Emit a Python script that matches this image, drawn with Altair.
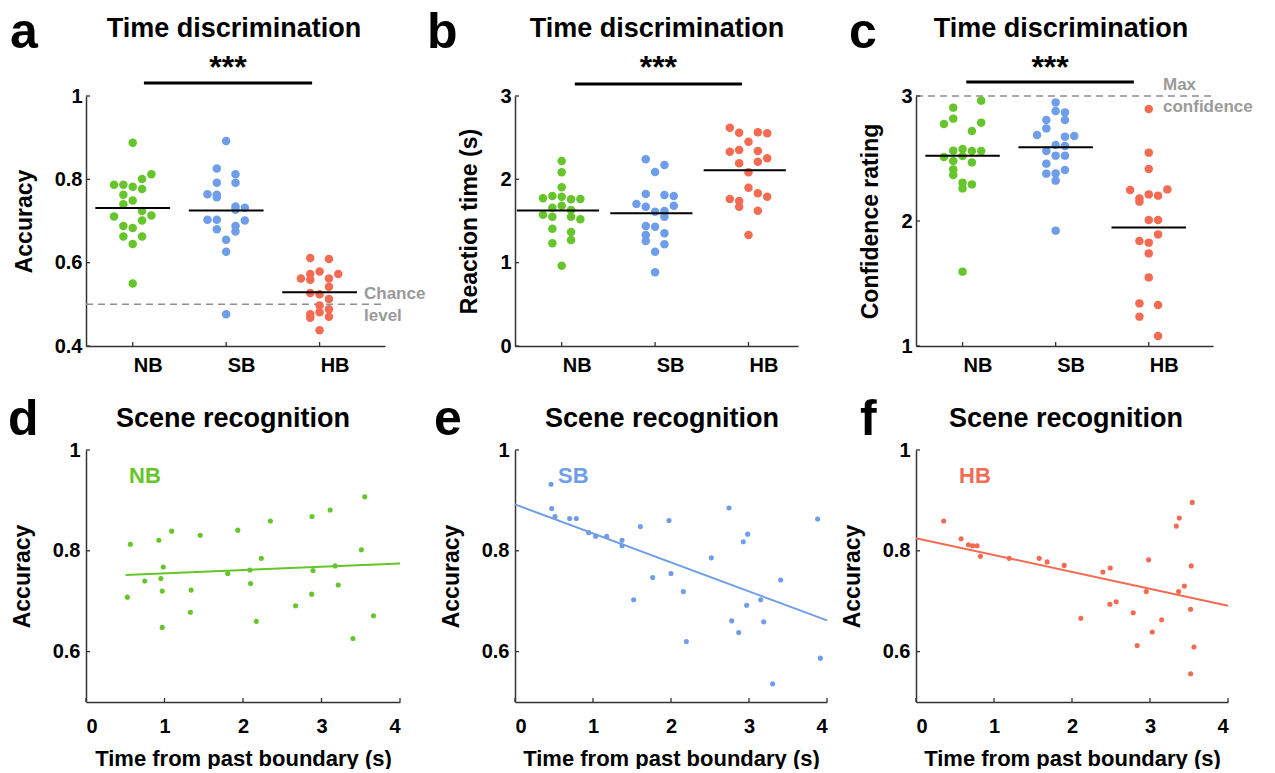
import altair as alt
import pandas as pd

FONT = "Liberation Sans"
GROUPS = ["NB", "SB", "HB"]
COLORS = ["#66c52a", "#6e9ee9", "#f36b52"]
AXC = "#333333"

# ---- panel a: accuracy (time discrimination) ----
a_NB_y = [0.888, 0.812, 0.801, 0.787, 0.787, 0.782, 0.777, 0.763, 0.749, 0.740,
          0.724, 0.711, 0.713, 0.701, 0.688, 0.683, 0.663, 0.663, 0.645, 0.550]
a_NB_dx = [0, 0.2, 0.1, -0.2, -0.1, 0, 0.1, -0.1, 0, -0.1, 0.1, -0.2, 0.2, 0.1, -0.1, 0, -0.1, 0.1, 0, 0]
a_SB_y = [0.892, 0.826, 0.812, 0.792, 0.792, 0.764, 0.763, 0.757, 0.735, 0.732,
          0.727, 0.703, 0.703, 0.701, 0.688, 0.680, 0.675, 0.655, 0.626, 0.476]
a_SB_dx = [0, -0.1, 0.1, -0.1, 0.1, -0.2, -0.1, -0.1, 0.1, 0.2, 0.1, -0.2, -0.1, 0.2, 0.1, -0.1, 0.1, 0, 0, 0]
a_HB_y = [0.611, 0.609, 0.579, 0.573, 0.573, 0.562, 0.559, 0.562, 0.542, 0.527,
          0.524, 0.513, 0.497, 0.476, 0.488, 0.481, 0.468, 0.470, 0.438]
a_HB_dx = [-0.1, 0.1, 0, -0.1, 0.2, -0.2, -0.1, 0.1, 0.1, -0.1, 0, 0.1, 0, -0.1, 0.1, 0, -0.1, 0.1, 0]

# ---- panel b: reaction time ----
b_NB_y = [2.22, 2.084, 1.904, 1.772, 1.80, 1.792, 1.76, 1.764, 1.66, 1.684,
          1.632, 1.576, 1.552, 1.552, 1.52, 1.408, 1.368, 1.232, 1.272, 0.964]
b_NB_dx = [0, 0, 0, -0.2, -0.1, 0, 0.1, 0.2, -0.1, 0, 0.1, -0.2, -0.1, 0.1, 0.2, -0.1, 0.1, -0.1, 0.1, 0]
b_SB_y = [2.24, 2.172, 2.088, 1.824, 1.812, 1.80, 1.704, 1.672, 1.684, 1.612,
          1.62, 1.552, 1.44, 1.432, 1.332, 1.352, 1.26, 1.22, 1.132, 0.884]
b_SB_dx = [-0.1, 0.1, 0, -0.1, 0.1, 0.2, -0.2, -0.1, 0.2, 0, 0.1, 0.1, -0.1, 0, -0.1, 0.1, -0.1, 0.1, 0, 0]
b_HB_y = [2.62, 2.56, 2.564, 2.552, 2.452, 2.332, 2.352, 2.34, 2.252, 2.192,
          2.212, 2.084, 1.90, 1.832, 1.792, 1.764, 1.74, 1.672, 1.624, 1.332]
b_HB_dx = [-0.2, -0.1, 0.1, 0.2, 0, -0.2, -0.1, 0.1, 0.2, -0.1, 0.1, 0, 0, 0.1, 0.2, -0.2, -0.1, -0.1, 0.1, 0]

# ---- panel c: confidence rating ----
c_NB_y = [2.963, 2.907, 2.819, 2.776, 2.787, 2.72, 2.576, 2.563, 2.56, 2.56,
          2.512, 2.48, 2.469, 2.413, 2.368, 2.307, 2.293, 2.261, 1.595, 2.52]
c_NB_dx = [0.2, -0.1, -0.1, -0.2, 0.2, 0.1, 0, -0.1, 0.1, 0.2, -0.2, -0.1, 0.1, -0.1, -0.1, 0, 0.1, 0, 0, 0]
c_SB_y = [2.949, 2.88, 2.869, 2.808, 2.808, 2.741, 2.688, 2.675, 2.68, 2.608,
          2.60, 2.56, 2.523, 2.523, 2.459, 2.379, 2.381, 2.408, 2.323, 1.923]
c_SB_dx = [0, 0, 0.1, -0.1, 0.1, -0.1, -0.2, 0.1, 0.2, 0, 0.1, -0.1, 0, 0.1, -0.1, -0.1, 0, 0.1, 0, 0]
c_HB_y = [2.896, 2.547, 2.416, 2.248, 2.213, 2.253, 2.181, 2.155, 2.203, 2.008,
          2.008, 1.893, 1.84, 1.827, 1.741, 1.549, 1.341, 1.328, 1.235, 1.08]
c_HB_dx = [0, 0, 0, -0.2, 0, 0.2, -0.1, -0.1, 0.1, 0, 0.1, 0.1, -0.1, 0, 0, 0, -0.1, 0.1, -0.1, 0.1]

# ---- panels d-f: scene recognition ----
d_x = [0.526, 0.565, 0.749, 0.928, 0.954, 0.971, 0.984, 0.971, 1.091, 1.339, 1.330, 1.455, 1.805, 1.934, 2.088,
       2.096, 2.169, 2.233, 2.349, 2.670, 2.879, 2.875, 2.892, 3.110, 3.174, 3.213, 3.401, 3.508, 3.551, 3.662]
d_y = [0.708, 0.813, 0.740, 0.821, 0.745, 0.720, 0.768, 0.648, 0.839, 0.722, 0.678, 0.831, 0.755, 0.841, 0.762,
       0.735, 0.660, 0.785, 0.859, 0.691, 0.868, 0.714, 0.761, 0.881, 0.770, 0.732, 0.626, 0.802, 0.907, 0.671]
d_fit_x = [0.505, 4.0]
d_fit_y = [0.752, 0.775]

e_x = [0.462, 0.470, 0.513, 0.701, 0.786, 0.944, 1.034, 1.175, 1.372, 1.372, 1.521, 1.607, 1.765, 1.974, 2.0,
       2.158, 2.197, 2.517, 2.744, 2.778, 2.868, 2.927, 2.983, 2.970, 3.150, 3.188, 3.303, 3.406, 3.880, 3.915]
e_y = [0.932, 0.884, 0.868, 0.864, 0.864, 0.836, 0.829, 0.829, 0.821, 0.810, 0.703, 0.848, 0.747, 0.860, 0.755,
       0.719, 0.620, 0.786, 0.885, 0.661, 0.638, 0.818, 0.833, 0.692, 0.703, 0.659, 0.536, 0.742, 0.863, 0.587]
e_fit_x = [0.0, 4.0]
e_fit_y = [0.892, 0.662]

f_x = [0.355, 0.578, 0.672, 0.727, 0.783, 0.826, 1.194, 1.579, 1.681, 1.900, 2.113, 2.396, 2.490, 2.486, 2.567,
       2.785, 2.836, 2.952, 2.982, 3.029, 3.149, 3.337, 3.375, 3.367, 3.440, 3.521, 3.529, 3.542, 3.564, 3.521]
f_y = [0.859, 0.824, 0.812, 0.810, 0.810, 0.789, 0.785, 0.785, 0.778, 0.771, 0.666, 0.758, 0.766, 0.694, 0.699,
       0.677, 0.612, 0.719, 0.782, 0.639, 0.663, 0.849, 0.865, 0.719, 0.730, 0.684, 0.770, 0.896, 0.609, 0.556]
f_fit_x = [0.0, 4.0]
f_fit_y = [0.825, 0.691]

TOP_H = 250
BOT_H = 252


def txt(text, x, y, size, color="black", align="left", weight="bold"):
    return alt.Chart(pd.DataFrame({"t": [text]})).mark_text(
        font=FONT, fontSize=size, fontWeight=weight, color=color, align=align, baseline="alphabetic"
    ).encode(text="t:N", x=alt.value(x), y=alt.value(y))


def top_panel(letter, letter_x, title, title_x, ylab, ys, dxs, ydom, yticks, xdom, xrange_px, width,
              mean_lo, mean_hi, sig, sig_y, ref, ref_texts, anchor=False):
    rows = []
    for gi, g in enumerate(GROUPS):
        for v, d in zip(ys[gi], dxs[gi]):
            rows.append({"g": g, "cat": gi + 1, "x": gi + 1 + d, "y": v})
    df = pd.DataFrame(rows)
    xs = alt.Scale(domain=xdom, range=[0, xrange_px], nice=False, zero=False)
    ysc = alt.Scale(domain=ydom, nice=False, zero=False)
    xaxis = alt.Axis(values=[1, 2, 3], labelExpr="['', 'NB', 'SB', 'HB'][datum.value]", labelOffset=15,
                     ticks=False, tickSize=0, labelPadding=9, title=None, grid=False)
    yaxis = alt.Axis(values=yticks, format="~g", ticks=False, tickSize=0, labelPadding=4,
                     title=ylab, titlePadding=18, grid=False)

    def X(f):
        return alt.X(f, type="quantitative", scale=xs, axis=xaxis)

    def Y(f):
        return alt.Y(f, type="quantitative", scale=ysc, axis=yaxis)

    layers = []
    refdf = pd.DataFrame({"x": [xdom[0]], "x2": [xdom[1]], "y": [ref]})
    layers.append(alt.Chart(refdf).mark_rule(strokeDash=[7, 5], color="#8f8f8f", strokeWidth=1.5)
                  .encode(x=X("x"), x2=alt.X2("x2"), y=Y("y")))
    layers.append(alt.Chart(df).mark_circle(size=72, opacity=1).encode(
        x=X("x"), y=Y("y"),
        color=alt.Color("g:N", scale=alt.Scale(domain=GROUPS, range=COLORS), legend=None)))
    layers.append(alt.Chart(df).transform_aggregate(m="mean(y)", groupby=["cat"])
                  .transform_calculate(x0=f"datum.cat - {mean_lo}", x1=f"datum.cat + {mean_hi}")
                  .mark_rule(color="black", strokeWidth=2)
                  .encode(x=X("x0"), x2=alt.X2("x1"), y=Y("m")))
    sdf = pd.DataFrame({"s0": [sig[0]], "s1": [sig[1]], "sm": [(sig[0] + sig[1]) / 2]})
    layers.append(alt.Chart(sdf).mark_rule(color="black", strokeWidth=3)
                  .encode(x=X("s0"), x2=alt.X2("s1"), y=alt.value(sig_y)))
    layers.append(alt.Chart(sdf).mark_text(text="***", font=FONT, fontSize=32, fontWeight="bold",
                                           color="black", baseline="alphabetic", align="center")
                  .encode(x=X("sm"), y=alt.value(-18)))
    layers.append(alt.Chart(pd.DataFrame({"t": [1, 2, 3]})).mark_rule(color=AXC, strokeWidth=1.3)
                  .encode(x=X("t"), y=alt.value(TOP_H), y2=alt.value(TOP_H - 4)))
    layers.append(alt.Chart(pd.DataFrame({"t": yticks})).mark_rule(color=AXC, strokeWidth=1.3)
                  .encode(y=Y("t"), x=alt.value(0), x2=alt.value(4)))
    layers.append(txt(title, title_x, -59, 27, align="center"))
    layers.append(txt(letter, letter_x, -48, 50))
    for (t, tx, ty) in ref_texts:
        layers.append(txt(t, tx, ty, 17, color="#9a9a9a"))
    if anchor:
        layers.append(alt.Chart(pd.DataFrame({"k": [0]})).mark_rule(color="white", strokeWidth=1)
                      .encode(x=alt.value(-77.5), x2=alt.value(-77.5), y=alt.value(-60), y2=alt.value(-59)))
    return alt.layer(*layers).properties(width=width, height=TOP_H)


def bottom_panel(letter, letter_x, label, color, xv, yv, fx, fy, width, range_px, title_x):
    df = pd.DataFrame({"x": xv, "y": yv})
    xs = alt.Scale(domain=[0, 4], range=[0, range_px], nice=False, zero=False)
    ysc = alt.Scale(domain=[0.5, 1], nice=False, zero=False)
    xaxis = alt.Axis(values=[0, 1, 2, 3, 4], format="d", ticks=False, tickSize=0, labelPadding=14,
                     title="Time from past boundary (s)", titlePadding=12, titleFontSize=22, grid=False)
    yaxis = alt.Axis(values=[0.6, 0.8, 1], format="~g", ticks=False, tickSize=0, labelPadding=6,
                     title="Accuracy", titlePadding=18, grid=False)

    def X(f):
        return alt.X(f, type="quantitative", scale=xs, axis=xaxis)

    def Y(f):
        return alt.Y(f, type="quantitative", scale=ysc, axis=yaxis)

    layers = [
        alt.Chart(df).mark_circle(size=26, opacity=1, color=color).encode(x=X("x"), y=Y("y")),
        alt.Chart(pd.DataFrame({"fx": fx, "fy": fy})).mark_line(color=color, strokeWidth=2)
        .encode(x=X("fx"), y=Y("fy")),
        alt.Chart(pd.DataFrame({"t": [0, 1, 2, 3, 4]})).mark_rule(color=AXC, strokeWidth=1.3)
        .encode(x=X("t"), y=alt.value(BOT_H), y2=alt.value(BOT_H - 4)),
        alt.Chart(pd.DataFrame({"t": [0.6, 0.8, 1.0]})).mark_rule(color=AXC, strokeWidth=1.3)
        .encode(y=Y("t"), x=alt.value(0), x2=alt.value(4)),
        txt(label, 43, 33, 22, color=color),
        txt("Scene recognition", title_x, -23, 27, align="center"),
        txt(letter, letter_x, -15, 50),
    ]
    return alt.layer(*layers).properties(width=width, height=BOT_H)


pa = top_panel("a", -76, "Time discrimination", 148, "Accuracy",
               [a_NB_y, a_SB_y, a_HB_y], [a_NB_dx, a_SB_dx, a_HB_dx],
               [0.4, 1.0], [0.4, 0.6, 0.8, 1.0], [0.5, 3.7], 299, 349,
               0.4, 0.4, (1.12, 2.92), -13, 0.5,
               [("Chance", 278, 203), ("level", 278, 225)], anchor=True)
pb = top_panel("b", -88, "Time discrimination", 142, "Reaction time (s)",
               [b_NB_y, b_SB_y, b_HB_y], [b_NB_dx, b_SB_dx, b_HB_dx],
               [0, 3], [0, 1, 2, 3], [0.5, 3.53], 283, 320,
               0.48, 0.4, (1.14, 2.93), -12, None, [])
pc = top_panel("c", -67, "Time discrimination", 145, "Confidence rating",
               [c_NB_y, c_SB_y, c_HB_y], [c_NB_dx, c_SB_dx, c_HB_dx],
               [1, 3], [1, 2, 3], [0.5, 3.69], 297, 297,
               0.4, 0.4, (1.04, 2.84), -14, 3,
               [("Max", 247, -6), ("confidence", 247, 16)])
pd_ = bottom_panel("d", -78, "NB", COLORS[0], d_x, d_y, d_fit_x, d_fit_y, 346, 314, 147)
pe = bottom_panel("e", -81, "SB", COLORS[1], e_x, e_y, e_fit_x, e_fit_y, 321, 312, 147)
pf = bottom_panel("f", -56, "HB", COLORS[2], f_x, f_y, f_fit_x, f_fit_y, 312, 312, 150)

chart = alt.concat(pa, pb, pc, pd_, pe, pf, columns=3).properties(
    spacing={"row": 104, "column": 80}, align="none", bounds="flush", padding=0
).configure_view(strokeWidth=0).configure_axis(
    domainColor=AXC, domainWidth=1.5, labelFont=FONT, labelFontSize=20, labelFontWeight="bold",
    labelColor="black", titleFont=FONT, titleFontSize=23, titleFontWeight="bold", titleColor="black",
    grid=False
)

chart.save("out.html", embed_options={"renderer": "svg", "actions": False})
